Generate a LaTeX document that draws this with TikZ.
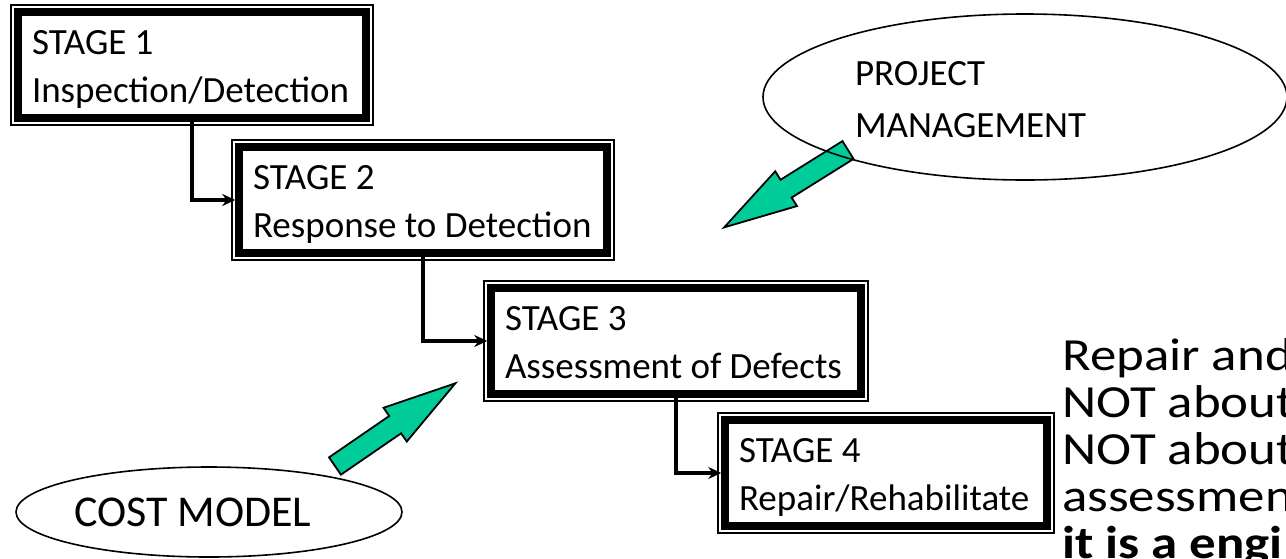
\documentclass[tikz,border=0pt]{standalone}
\usepackage{fontspec}
\setmainfont{Carlito}
\newfontfamily\notefamily[FakeStretch=1.15]{Carlito}
\usetikzlibrary{shapes.geometric,arrows.meta}

\definecolor{arrowgreen}{HTML}{00CC99}
\newcommand\stagefont{\fontsize{37}{48}\selectfont}
\newcommand\pmfont{\fontsize{37}{52}\selectfont}
\newcommand\notefont{\notefamily\fontsize{46}{47}\selectfont}

\tikzset{
  stagebox/.style={draw, line width=7.5pt, minimum height=106pt, inner xsep=14pt,
    inner ysep=0pt, align=flush left, text height=24pt, text depth=46pt, font=\stagefont},
  outerframe/.style={line width=1.5pt},
  link/.style={line width=4.5pt, -{Stealth[length=13pt,width=12pt]}},
  greenarrow/.style={draw, line width=1.8pt, fill=arrowgreen, line join=miter},
  oval/.style={ellipse, draw, line width=1.6pt, inner sep=0pt}
}

\begin{document}
\begin{tikzpicture}[x=1pt,y=-1pt]
    \clip (0,0) rectangle (1286,558);
    %% Stages
    \node[stagebox, minimum width=348pt, text width=320pt] (s1) at (192,65) {STAGE 1\\Inspection/Detection};
    \node[stagebox, minimum width=368pt, text width=340pt] (s2) at (423,200) {STAGE 2\\Response to Detection};
    \node[stagebox, minimum width=370pt, text width=342pt] (s3) at (676,341) {STAGE 3\\Assessment of Defects};
    \node[stagebox, minimum width=322pt, text width=294pt] (s4) at (886,473) {STAGE 4\\Repair/Rehabilitate};
    \foreach \n in {s1,s2,s3,s4}
        \draw[outerframe] ([shift={(-3.25,3.25)}]\n.south west) rectangle ([shift={(3.25,-3.25)}]\n.north east);
    %% Links
    \draw[link] (s1.south) |- (s2.west);
    \draw[link] (s2.south) |- (s3.west);
    \draw[link] (s3.south) |- (s4.west);
    %% Block arrows
    \draw[greenarrow, shift={(848,150)}, rotate=212] (0,-10.5) -- (73,-10.5) -- (73,-20.5) -- (146,0)
        -- (73,20.5) -- (73,10.5) -- (0,10.5) -- cycle;
    \draw[greenarrow, shift={(335,466)}, rotate=34.5] (0,-10.5) -- (73,-10.5) -- (73,-20.5) -- (146,0)
        -- (73,20.5) -- (73,10.5) -- (0,10.5) -- cycle;
    %% Ovals
    \node[oval, minimum width=524pt, minimum height=166pt, text width=340pt, align=flush left,
        text height=24pt, text depth=48pt, font=\pmfont] (pm) at (1025,97) {PROJECT\\MANAGEMENT};
    \node[oval, minimum width=386pt, minimum height=90pt, text width=270pt, align=flush left,
        font=\fontsize{44}{50}\selectfont] (cost) at (209,512) {COST MODEL};
    %% Note
    \node[anchor=base west, align=flush left, text width=400pt, inner sep=0pt, font=\notefont] (note) at (1062,370)
        {Repair and\\NOT about\\NOT about\\assessmen\\\textbf{it is a engi}};
\end{tikzpicture}
\end{document}
